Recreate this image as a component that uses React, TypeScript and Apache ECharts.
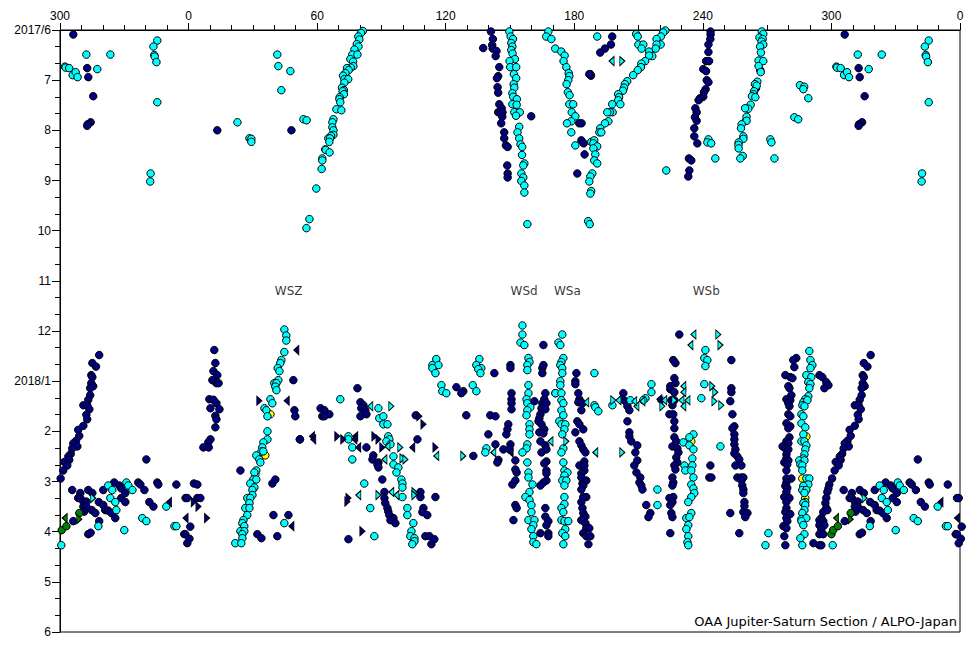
import React, { useEffect, useRef } from "react";
import * as echarts from "echarts";

type P = [number, number];
const lonTicks = ["300", "0", "60", "120", "180", "240", "300", "0"];
const monthTicks = ["2017/6", "7", "8", "9", "10", "11", "12", "2018/1", "2", "3", "4", "5", "6"];
const zoneLabels: [string, number, number][] = [["WSZ", 46.7, 5.2], ["WSd", 156.6, 5.2], ["WSa", 176.8, 5.2], ["WSb", 241.6, 5.2]];
const credit = "OAA Jupiter-Saturn Section / ALPO-Japan";

const navyTop: P[] = [[-53.8,.09],[-47.3,.76],[-46.8,.94],[-44.5,1.32],[-45.7,1.84],[-47.1,1.88],[-47.3,1.91],[13.4,2],[48,2],
[141.1,.03],[142,.18],[141.7,.3],[137.5,.36],[141.9,.37],[143.7,.42],[143.3,.52],[145,.74],[144.5,.92],[143.9,.96],[144.2,1.14],[144.5,1.25],[145,1.48],[146.1,1.56],[144.5,1.64],[146.5,1.64],[146.4,1.73],[145.9,1.86],[147.3,2.04],[147.3,2.16],[148.1,2.3],[148.9,2.33],[148.7,2.7],[148.9,2.86],[148.9,2.94],[159.9,1.72],
[197.7,.13],[197.1,.29],[194.3,.37],[192.1,.45],[187.5,.88],[187.8,.91],[187,.88],[182.3,1.86],[183.4,1.86],[183.3,2.2],[184.4,2.26],[184.8,2.48],[181.4,2.86],
[243.6,.03],[243.6,.09],[243.5,.18],[242.6,.29],[242.6,.44],[241.5,.62],[242.9,.62],[240.2,.78],[241.5,.82],[241.8,1],[242.6,1.04],[241.3,1.18],[240.5,1.24],[240.2,1.33],[238.7,1.36],[238,1.4],[236.5,1.56],[237.1,1.64],[236.3,1.74],[237.1,1.81],[236,1.96],[236,2.12],[237.4,2.26],[233.5,2.56],[234.6,2.6],[233.7,2.8],[233.2,2.92],[266.8,.8],[264.8,1.16],[260.1,1.81]];

const cyanTop: P[] = [[-57.7,.73],[-57.4,.75],[-55.7,.76],[-54.1,.9],[-52.7,.84],[-51.8,.94],[-47.7,.49],[-42.6,.78],[-36.5,.49],[-14.6,.21],[-16.4,.33],[-16,.5],[-15.8,.53],[-15,.64],[-14.6,1.44],[-17.7,2.86],[-17.9,3.02],
[41.4,.49],[41.9,.72],[47.5,.82],[43.3,1.2],[22.8,1.84],[28.4,2.16],[29.3,2.17],[29.3,2.23],[53.6,1.78],[55.1,1.8],
[81.3,.02],[80.5,.06],[79.2,.13],[79.7,.19],[78.5,.28],[79.3,.33],[77.4,.39],[76.4,.49],[78.8,.49],[75.5,.58],[76.8,.63],[76.9,.72],[75.7,.75],[73.9,.76],[74.7,.8],[73.2,.86],[72.1,.91],[72.7,.98],[74.5,.98],[72.7,1.05],[71.6,1.15],[72.5,1.2],[71.9,1.22],[72.5,1.28],[70.5,1.34],[70.4,1.38],[70.8,1.44],[69,1.58],[71.3,1.6],[67.6,1.78],[67.1,1.84],[67.1,1.94],[67.6,2],[67.6,2.09],[66.5,2.11],[65.2,2.16],[66,2.16],[65.7,2.23],[63.8,2.38],[64,2.39],[65.8,2.44],[62.4,2.56],[62.4,2.6],[62.1,2.77],[59.6,3.16],[56.4,3.77],[55,3.95],
[149.7,.03],[150.3,.13],[151.4,.18],[150.6,.26],[151.1,.33],[150.6,.4],[151.2,.47],[152.3,.58],[149.8,.62],[150.1,.74],[152.9,.74],[151.8,.88],[152.9,.96],[151.7,1.08],[152,1.15],[151.1,1.26],[151.5,1.33],[153.2,1.38],[151.1,1.48],[153.1,1.49],[152,1.64],[154.6,1.64],[152.8,1.71],[154.3,1.93],[153.5,2.04],[154.3,2.16],[154.9,2.28],[155.7,2.33],[155.6,2.49],[156.7,2.66],[156.2,2.7],[155.3,2.86],[156.2,2.94],[155.3,3.01],[156.7,3.1],[156.7,3.24],[158.1,3.87],
[167.9,.03],[166.9,.13],[169.3,.18],[171.1,.37],[173.9,.43],[175.5,.51],[175,.62],[176.3,.74],[177.4,.86],[177.7,.92],[177.2,1],[176.4,1.08],[177,1.24],[177.8,1.3],[177.7,1.48],[179.5,1.48],[178.8,1.64],[180.5,1.72],[178.6,1.82],[176.6,1.86],[178.6,2.04],[180.5,2.3],[187.9,2.23],[189.3,2.2],[188.9,2.26],[190.7,2.32],[188.9,2.36],[189.8,2.48],[189.3,2.6],[190.7,2.66],[188.4,2.86],[187.5,2.92],[187,3.02],[187.9,3.21],[187.5,3.26],[186.5,3.81],[187.2,3.87],
[222.5,.01],[221.5,.05],[220.4,.13],[218.4,.18],[220.3,.29],[218.4,.29],[218,.37],[214.9,.43],[216.4,.52],[214.9,.51],[213.1,.62],[211.3,.67],[211.1,.74],[209.6,.8],[207.5,.9],[204.7,1.02],[203.6,1.08],[203.2,1.15],[202.7,1.21],[200.5,1.28],[200.9,1.34],[200.5,1.4],[197.7,1.48],[201.5,1.48],[197.9,1.64],[196.6,1.64],[195.4,1.64],[195.9,1.82],[194.3,1.86],[192.1,1.96],[191.7,2.04],[192.6,2.04],
[190.7,.13],[208.9,.08],[209.6,.13],[209.9,.29],[212.2,.29],[211.4,.37],[222.9,2.8],
[267.5,.03],[268.2,.08],[266.4,.15],[267.9,.18],[267.4,.23],[268.2,.29],[266.7,.33],[267.1,.45],[266,.61],[268.2,.62],[266,.72],[267,.84],[265.4,1.03],[264.3,1.08],[265.1,1.11],[263.9,1.22],[263.6,1.28],[262.9,1.32],[264.5,1.34],[262.3,1.49],[261.2,1.57],[259.7,1.56],[260.4,1.73],[260.4,1.81],[258.1,1.88],[257.8,1.96],[258.9,2.12],[258.9,2.17],[256.7,2.24],[256.6,2.29],[256.7,2.36],[258.6,2.51],[257.5,2.56],
[242.6,2.18],[242.1,2.24],[243.9,2.26],[245.8,2.56],[271.5,2.18],[272,2.24],[273.4,2.56],[282.7,1.74],[284.5,1.78],[285.3,1.1],[287.3,1.13],[286.9,1.18],[289.2,1.36]];

const navyLow: P[] = [[-41.7,6.48],[-44.9,6.64],[-43.2,6.71],[-45.4,6.88],[-44.9,6.92],[-45.4,7.04],[-44.5,7.1],[-45.9,7.14],[-45.9,7.28],[-46.8,7.37],[-49.1,7.48],[-47.3,7.48],[-46.3,7.56],[-47.7,7.67],[-47.3,7.76],[-49.1,7.89],[-51.5,7.97],[-51,8.09],[-52.5,8.19],[-53.8,8.24],[-51.9,8.3],[-54.3,8.34],[-55,8.45],[-56.1,8.5],[-55.7,8.57],[-58,8.61],[-56.6,8.68],[-58.5,8.78],[-59.7,8.94],
[-19.7,8.56],[-54.3,9.17],[-50.5,9.23],[-46.8,9.17],[-44.9,9.23],[-51.5,9.33],[-50.5,9.33],[-49.1,9.4],[-47.7,9.4],[-49.1,9.5],[-47.7,9.5],[-48.7,9.6],[-45.2,9.57],[-43.5,9.63],[-53.8,9.79],[-41.7,9.79],[-46.8,10.05],[-45.7,10.02],
[-41.9,9.41],[-39.8,9.47],[-38.9,9.57],[-37.5,9.58],[-36,9.63],[-34.2,9.73],[-39.8,9.17],[-34.7,9.02],[-32.3,9.08],[-31.4,9.14],[-29.5,9.23],[-31.4,9.33],[-29.5,9.41],[-23.5,9.02],[-22.5,9.06],[-20.6,9.17],[-14.6,9.02],[-14.1,9.06],[-5.7,9.06],[2.5,9.04],[4.1,9.06],[-18.3,9.41],[-16.4,9.5],[-1.4,9.33],[-.6,9.33],[4.1,9.33],[5.5,9.33],[.8,9.9],[-2,10.05],[-1.5,10.05],[.4,10.14],[-.6,10.23],
[12,6.38],[12.5,6.64],[11.6,6.8],[13.4,6.88],[11.1,6.98],[13,7.04],[14,7.04],[9.7,7.36],[11.6,7.37],[13,7.44],[10.2,7.54],[14.4,7.56],[12.5,7.69],[13,7.76],[12.5,7.92],[10.2,8.16],[9.2,8.22],[6.9,8.32],[9.4,8.32],
[48.9,6.98],[49.4,7.58],[49.8,7.7],[51.9,8.16],[24.2,8.78],[39.1,9.04],[40.5,8.96],[39.6,9.67],[46.6,9.67],[32.1,10.05],[34,10.13],[41.4,10.09],
[78.8,7.14],[80.2,7.42],[81.6,7.48],[80.6,7.54],[82.5,7.58],[83,7.66],[80.2,7.7],[61.6,7.54],[63.4,7.58],[65.7,7.66],[62.4,7.7],[63.4,7.7],[106,7.68],[52,8.16],[83,8.32],[106.8,8.16],[86.2,8.48],[85.8,8.56],[88.6,8.62],[88.1,8.66],[88.6,8.72],[90.4,8.96],[91.4,9.21],[91.4,9.33],[91.8,9.43],[92.8,9.53],[93.2,9.6],[93.7,9.67],[95.6,9.73],[94.2,9.77],[96.5,9.83],
[108.2,9.21],[108.2,9.31],[115.2,9.31],[109.6,9.53],[109.1,9.61],[111.4,9.67],[74.6,10.15],[110.5,10.09],[112.4,10.09],[114.7,10.15],[113.3,10.25],
[125,7.12],[128.2,7.2],[127.3,7.24],[142.7,6.84],[150.2,6.68],[150.2,6.74],[165.6,6.28],[165.1,6.74],[165.6,6.68],[165.1,6.84],[129.6,7.68],[140.8,7.68],[143.2,7.7],[132.9,8.49],[139.9,8.06],[143.2,8.26],[146.9,8.36],[144.6,8.57],[144.1,8.62],
[150.7,7.24],[150.7,7.36],[150.7,7.44],[150.7,7.56],[149.2,7.86],[148.8,7.96],[148.3,8.06],[150.2,8.26],[149.7,8.36],[152.5,8.58],[152.5,8.76],[153.1,8.82],[152.5,8.98],[151.1,9.06],[152.5,9.47],[153.1,9.53],[151.6,9.77],
[161.4,7.4],[166.5,7.24],[166,7.36],[165.1,7.44],[167,7.44],[164.7,7.54],[166.5,7.56],[164.2,7.66],[163.7,7.74],[163.3,7.8],[164.7,7.86],[166,7.96],[163.7,8.02],[165.6,8.04],[164.2,8.2],[166.5,8.28],[167,8.36],[164.7,8.42],[167,8.6],[166,8.64],[167,8.78],[167,8.84],[167,8.98],[165.6,9.02],[164.2,9.08],[166.5,9.53],[166.5,9.7],[167.9,9.79],[167,9.87],[164.2,10.03],[167.9,10.03],[167.9,10.09],
[181,6.84],[180.5,7],[180.5,7.06],[181.9,7.24],[182.4,7.36],[181.9,7.42],[183.8,7.44],[183.3,7.58],[181.4,7.8],[182.4,7.86],[184.2,7.96],[180.5,8.02],[182.4,8.2],[183.3,8.28],[184.2,8.36],[185.2,8.42],[184.7,8.6],[182.4,8.68],[184.7,8.68],[184.7,8.78],[183.3,8.84],[183.3,8.92],[185.6,8.98],[183.8,9.04],[184.2,9.08],[183.3,9.16],[185.6,9.31],[184.2,9.31],[183.3,9.41],[183.8,9.53],[184.2,9.63],[185.2,9.7],[183.3,9.77],[185.2,9.83],[185.6,9.93],[187,9.93],[184.2,10.03],[185.6,10.09],[187.5,10.09],[186.6,10.25],
[202.9,7.24],[202.4,7.36],[203.8,7.4],[204.8,7.5],[205.7,7.58],[204.8,7.8],[205.7,8.02],[205.7,8.1],[206.6,8.2],[209.4,8.28],[208.5,8.42],[209.4,8.58],[208,8.68],[209,8.82],[210.8,8.92],[210.4,9.02],[211.3,9.08],[211.8,9.16],[213.6,9.47],[215.5,9.63],[214.6,9.71],
[229,6.07],[226.2,6.58],[227.2,6.64],[226.7,6.94],[227.2,7.04],[224.8,7.1],[224.8,7.16],[226.7,7.22],[225.3,7.38],[226.7,7.38],[225.8,7.48],[224.4,7.66],[226.2,7.66],[226.7,7.8],[226.7,7.94],[226.7,8.12],[225.8,8.3],[227.6,8.2],[228.1,8.34],[228.6,8.42],[227.6,8.52],[228.1,8.62],[226.7,8.68],[227.2,8.76],[225.8,8.92],[226.2,9.02],[225.8,9.08],[226.2,9.31],[224.4,9.33],[225.8,9.41],[224.8,9.47],[225.3,9.63],[225.8,9.71],[224.8,10.03],
[253.3,6.58],[253.3,7.14],[253.3,7.22],[252.8,7.4],[253.8,7.66],[254.7,7.9],[253.8,7.94],[254.7,8.06],[254.7,8.16],[254.7,8.26],[255.2,8.36],[254.7,8.44],[256.1,8.5],[257,8.56],[255.2,8.68],[258,8.68],[256.1,8.92],[258,8.92],[258.9,8.92],[258,8.98],[258.4,9.08],[258.9,9.16],[258.9,9.23],[259.4,9.41],[259.4,9.49],[258.9,9.61],[260.8,9.63],[259.8,9.71],[252.8,9.63],[257,10.03],[243.5,8.68],[243,8.92],[244,8.92],
[283.6,6.54],[282.2,6.58],[282.7,6.72],[278.5,6.88],[280.8,6.92],[281.8,6.94],[279.9,7.1],[280.4,7.14],[281.3,7.28],[279,7.36],[280.8,7.38],[279.9,7.44],[280.4,7.5],[279.9,7.66],[280.8,7.7],[279,7.84],[280.8,7.9],[279.9,7.94],[280.4,8.12],[279,8.2],[279.9,8.24],[277.2,8.3],[278.5,8.34],[279.9,8.36],[279,8.46],[279,8.54],[279.9,8.58],[278,8.62],[279.4,8.66],[279,8.78],[281.3,8.94],[279,8.94],[279,9.02],[278.5,9.09],[279.4,9.13],[279,9.21],[278,9.31],[280.4,9.33],[279,9.41],[279,9.53],[278.5,9.61],[280.8,9.65],[279,9.73],[279.4,9.79],[277.6,9.89],[279,9.93],[278,10.09],[278.5,10.27],
[294.4,6.88],[295.8,6.92],[297.6,7.02],[298.6,7.08],[296.7,7.14],[291.6,10.23],[294.4,10.27],[295.3,10.27],
[299,9.06],[298.6,9.14],[298.1,9.21],[297.6,9.33],[297.2,9.43],[297.6,9.53],[296.2,9.61],[298.1,9.57],[295.3,9.73],[294.4,9.77],[296.2,9.79],[294.4,9.87],[296.7,9.87],[295.3,9.95],[294.4,10.05],[296.2,10.05]];

const cyanLow: P[] = [[-59.4,10.27],[-37.5,9.08],[-35.6,9.17],[-29,9.02],[-28.1,9.08],[-26.2,9.17],[-36.5,9.33],[-34.2,9.41],[-33.7,9.57],[-21.6,9.73],[-19.7,9.79],[-42.1,9.89],[-30,9.97],[-6.6,9.89],[-5.7,9.89],[-10.4,9.5],
[44.7,5.97],[45.6,6.09],[45.6,6.19],[44.7,6.42],[43.3,6.58],[42.8,6.64],[41.6,6.74],[42.4,6.8],[41.9,6.98],[40,7.04],[41,7.04],[40.5,7.11],[41,7.18],[38.2,7.36],[39.1,7.44],[35.4,7.54],[36.3,7.58],[36.8,7.7],[36.8,8],[36.8,8.16],[34.9,8.22],[34.4,8.32],[34,8.4],[31.6,8.48],[34.9,8.4],[33,8.56],[33.5,8.62],[31.6,8.78],[30.7,8.82],[30.2,8.96],[31.6,8.96],[28.8,9.04],[30.7,9.12],[29.8,9.17],[29.8,9.27],[27.4,9.33],[28.8,9.33],[28.4,9.43],[26.5,9.53],[28.4,9.53],[27.4,9.67],[25.6,9.77],[25.1,9.83],[26,9.89],[24.2,9.99],[26,9.99],[25.1,10.05],[25.1,10.13],[21.8,10.23],[24.6,10.23],[44.7,9.83],
[70.8,7.36],[88.6,7.54],[89,7.74],[90.9,7.7],[90.9,7.86],[92.8,7.86],[74.6,8.1],[74.6,8.16],[76.4,8.32],[76.4,8.56],[93.2,8.1],[93.7,8.16],[92.3,8.2],[94.2,8.26],[95.6,8.5],[95.6,8.66],[97.9,8.72],[97,8.82],[99.3,8.96],[99.8,9.04],[99.8,9.12],[82,9.04],[99.8,9.31],[84.8,9.53],[102.1,9.53],[102.1,9.67],[104.9,9.83],[104,9.99],[103.5,10.09],[105.4,10.13],[105.4,10.19],[104.4,10.25],[86.7,10.09],
[115.6,6.56],[113.8,6.68],[116.6,6.68],[113.8,6.74],[115.2,6.84],[118,7.08],[118.4,7.2],[120.3,7.24],[132.6,7.08],[134.3,7.2],[135.7,6.56],[134.3,6.68],[136.6,6.74],[135.2,6.76],[136.2,6.84],[139,8.34],[138.5,8.42],
[155.8,5.89],[155.8,6.07],[154.9,6.23],[156.7,6.28],[158.6,6.54],[159.1,6.62],[158.1,6.68],[158.1,6.78],[158.6,7.08],[158.6,7.24],[157.7,7.36],[158.1,7.44],[159.5,7.52],[158.1,7.58],[157.7,7.68],[159.1,7.86],[159.1,7.96],[159.1,8.06],[158.1,8.26],[157.7,8.34],[155.8,8.42],[158.1,8.62],[158.6,8.82],[158.6,8.92],[160.5,9.06],[159.1,9.21],[157.2,9.31],[159.1,9.37],[160,9.47],[160,9.61],[158.6,9.77],[161.4,9.77],[160.9,9.87],[160,9.95],[160.9,10.09],[160.9,10.21],[162.3,10.25],[171.2,7.24],
[174.4,6.07],[172.6,6.23],[173.5,6.28],[174.9,6.54],[174,6.62],[173.5,6.68],[174.4,6.74],[174.4,6.84],[173.5,7],[173.5,7.08],[171.2,7.24],[174,7.24],[174,7.38],[174.9,7.44],[174,7.58],[174.9,7.68],[173,7.8],[174,7.86],[175.8,7.86],[175.4,7.96],[174.4,8.06],[174.9,8.34],[174,8.42],[174.9,8.62],[175.4,8.78],[176.8,8.82],[175.4,8.88],[174.4,8.98],[176.3,8.98],[175.4,9.08],[175.4,9.31],[175.4,9.45],[174,9.53],[174.9,9.61],[174,9.77],[175.4,9.79],[177.2,9.79],[175.8,9.95],[174.4,10.03],[175.8,10.09],[174.9,10.25],
[189.4,6.84],[189.4,7.48],[189.8,7.52],[191.2,7.6],[197.8,7.48],[213.2,7.34],[212.2,7.38],[216,7.06],[216,7.22],[218.8,9.16],[218.8,9.47],[206.2,7.38],
[240.7,7.06],[239.3,7.34],[241.2,6.38],[240.7,6.54],[242.1,6.58],[241.2,6.7],[248.2,8.3],
[235.6,8.06],[233.7,8.12],[230.9,8.22],[233.7,8.28],[235.6,8.36],[235.1,8.54],[231.4,8.68],[235.1,8.68],[231.8,8.78],[234.6,8.78],[235.6,8.92],[234.6,9.06],[235.6,9.14],[236,9.23],[234.6,9.31],[233.2,9.41],[234.6,9.63],[232.3,9.73],[233.7,9.71],[233.2,9.87],[232.3,9.95],[233.2,10.09],[232.8,10.21],[233.2,10.27],
[289.7,6.4],[290.2,6.58],[291.1,6.68],[290.2,6.74],[288.3,6.88],[290.6,6.92],[289.2,7.02],[290.2,7.06],[289.7,7.14],[289.2,7.3],[287.8,7.36],[286.9,7.42],[288.8,7.38],[286.4,7.48],[287.4,7.5],[286,7.66],[286.9,7.7],[286,7.84],[287.8,7.92],[286.9,8.06],[286,8.2],[287.4,8.2],[288.3,8.28],[287.8,8.36],[287.4,8.46],[286.9,8.54],[285,8.58],[287.4,8.58],[285.5,8.66],[286.4,8.68],[286.4,8.78],[288.3,8.94],[289.7,8.94],[289.2,9.06],[286.9,9.09],[286.4,9.17],[288.3,9.17],[287.4,9.23],[287.8,9.41],[286.9,9.43],[287.8,9.47],[287.4,9.57],[286.4,9.63],[286,9.75],[288.3,9.73],[286,9.79],[286.9,9.87],[287.4,10.05],[285.5,10.13],[286.4,10.27],[270.6,10.03],[269.2,10.27]];

const greenDots: P[] = [[-59.2,9.97],[-57,9.89],[-51,9.63],[300,10.05]];
const yellowDots: P[] = [[38.2,7.66],[35.8,8.48],[31.2,8.86],[234.6,8.2],[288.3,8.1],[286.4,8.94],[287.8,9.33]];

const navyLeft: P[] = [[-1.4,9.73],[-9.1,9.41],[45.8,7.39],[50.3,6.38],[48,9.89],[57.6,8.1],[58.2,8.16],[77.8,8.1],[77.4,8.16],[104.4,8.32],[79.2,8.32],[150.3,8.42],[220.2,7.4],[219.7,7.36]];
const navyRight: P[] = [[8.6,9.73],[2.4,9.41],[4.6,9.5],[33,7.39],[69.4,8.1],[72.2,8.16],[86.7,8.1],[88.6,8.16],[90.4,8.32],[115.2,8.32],[109.6,7.86],[107.7,7.7],[74.6,9.33],[74.1,9.4],[81.1,9.99]];
const cyanLeft: P[] = [[197.4,.62],[84.8,7.5],[91.4,8.56],[92.8,8.3],[115.6,8.49],[79.2,9.27],[94.6,9.21],[97,9.27],[168.9,8.2],[142.2,8.42],[185.6,7.42],[189.8,8.42],[200.6,7.38],[209,7.5],[208,7.4],[211.8,7.4],[222,7.38],[230,7.38],[230.9,7.5],[232.8,7.38],[230.9,7.1],[230.9,7.22],[235.6,6.07],[234.2,6.28]];
const cyanRight: P[] = [[-44.5,9.33],[202.4,.62],[94.6,7.5],[98.8,8.32],[99.8,8.54],[101.2,8.56],[128.2,8.49],[88.6,9.27],[105.4,9.21],[105.4,9.27],[202.4,8.42],[198.2,7.38],[221.1,7.5],[226.7,7.38],[247.2,6.07],[248.2,6.28],[244.4,7.1],[245.8,7.22],[245.4,7.4],[248.6,7.48],[176.3,8.2]];
const greenLeft: P[] = [[-57.8,9.73]];
const greenRight: P[] = [[-51,9.75]];

const wrap = (pts: P[]): P[] => [...pts, ...pts.filter((p) => p[0] < 1).map((p): P => [p[0] + 360, p[1]])];
const TRI_L = "path://M10,0 L10,20 L0,10 Z";
const TRI_R = "path://M0,0 L0,20 L10,10 Z";
const NAVY = "#000080", CYAN = "#00FFFF", GREEN = "#008000", YELLOW = "#FFFF00";

function dots(data: P[], color: string) {
  return { type: "scatter", data: wrap(data), symbol: "circle", symbolSize: 7.5, clip: false, z: 2,
    itemStyle: { color, borderColor: "#000", borderWidth: 1, opacity: 1 } };
}
function tris(data: P[], color: string, left: boolean) {
  return { type: "scatter", data: wrap(data), symbol: left ? TRI_L : TRI_R, symbolSize: [5, 9], clip: false, z: 2,
    itemStyle: { color, borderColor: "#000", borderWidth: 1, opacity: 1 } };
}

export default function App() {
  const ref = useRef<HTMLDivElement>(null);
  useEffect(() => {
    document.body.style.margin = "0";
    const chart = echarts.init(ref.current!, undefined, { renderer: "svg" });
    chart.setOption({
      animation: false,
      backgroundColor: "#fff",
      textStyle: { fontFamily: "Liberation Sans" },
      grid: { left: 60, top: 30, width: 900, height: 602, show: true, borderColor: "#000", borderWidth: 1, backgroundColor: "transparent" },
      xAxis: {
        type: "value", position: "top", min: -60, max: 360, interval: 60,
        axisLine: { show: true, onZero: false, lineStyle: { color: "#000", width: 1 } },
        axisTick: { show: true, length: 7, lineStyle: { color: "#000" } },
        minorTick: { show: true, splitNumber: 6, length: 5, lineStyle: { color: "#000" } },
        splitLine: { show: false },
        axisLabel: { color: "#000", fontSize: 12, margin: 8, hideOverlap: false, showMinLabel: true, showMaxLabel: true,
          formatter: (_: number, i: number) => lonTicks[i] },
      },
      yAxis: {
        type: "value", inverse: true, min: 0, max: 12, interval: 1,
        axisLine: { show: true, onZero: false, lineStyle: { color: "#000", width: 1 } },
        axisTick: { show: true, length: 8, lineStyle: { color: "#000" } },
        minorTick: { show: true, splitNumber: 3, length: 5, lineStyle: { color: "#000" } },
        splitLine: { show: false },
        axisLabel: { color: "#000", fontSize: 12, margin: 9, hideOverlap: false, showMinLabel: true, showMaxLabel: true,
          formatter: (_: number, i: number) => monthTicks[i] },
      },
      series: [
        dots([...navyTop, ...navyLow], NAVY),
        dots(yellowDots, YELLOW),
        dots([...cyanTop, ...cyanLow], CYAN),
        dots(greenDots, GREEN),
        tris(navyLeft, NAVY, true),
        tris(navyRight, NAVY, false),
        tris(cyanLeft, CYAN, true),
        tris(cyanRight, CYAN, false),
        tris(greenLeft, GREEN, true),
        tris(greenRight, GREEN, false),
        {
          type: "scatter", symbolSize: 0, z: 6, silent: true,
          data: zoneLabels.map(([n, x, y]) => ({ name: n, value: [x, y] })),
          label: { show: true, position: "inside", formatter: "{b}", color: "#000", fontSize: 12, fontFamily: "DejaVu Sans" },
        },
      ],
      graphic: [{ type: "text", right: 23, top: 615, style: { text: credit, fill: "#000", font: "13px 'DejaVu Sans'" } }],
    });
    return () => chart.dispose();
  }, []);
  return <div ref={ref} style={{ width: 980, height: 650, display: "block" }} />;
}
